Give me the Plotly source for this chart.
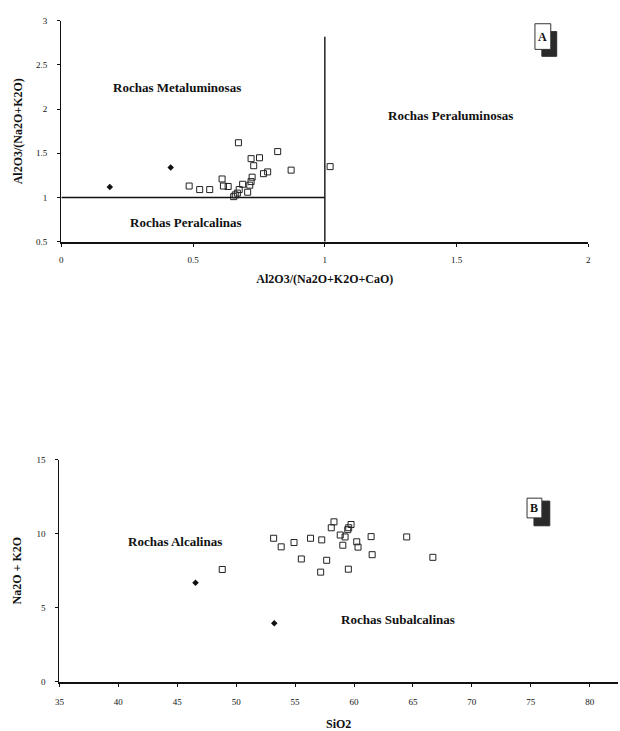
import plotly.graph_objects as go

W, H = 620, 731

# ---------------- Data: diagram A ----------------
a_sq_x = [0.485, 0.525, 0.563, 0.610, 0.615, 0.633, 0.672, 0.654, 0.660, 0.668, 0.675, 0.688,
          0.707, 0.715, 0.720, 0.724, 0.720, 0.730, 0.752, 0.767, 0.783, 0.821, 0.872, 1.020]
a_sq_y = [1.13, 1.09, 1.09, 1.21, 1.13, 1.125, 1.62, 1.01, 1.03, 1.05, 1.09, 1.15,
          1.06, 1.14, 1.18, 1.23, 1.44, 1.36, 1.45, 1.27, 1.29, 1.52, 1.31, 1.35]
a_dm_x = [0.184, 0.415]
a_dm_y = [1.12, 1.34]
a_hline_x = [0, 1]
a_hline_y = [1, 1]
a_vline_x = [1, 1]
a_vline_y = [0.5, 2.82]

# ---------------- Data: diagram B ----------------
b_sq_x = [48.82, 53.18, 53.82, 54.91, 55.53, 56.31, 57.26, 57.68, 57.17, 58.07, 58.30, 58.83,
          59.05, 59.24, 59.47, 59.55, 59.75, 59.52, 60.23, 60.34, 61.45, 61.54, 64.47, 66.69]
b_sq_y = [7.58, 9.69, 9.11, 9.40, 8.29, 9.69, 9.58, 8.20, 7.40, 10.40, 10.80, 9.91,
          9.22, 9.78, 10.27, 10.40, 10.62, 7.60, 9.45, 9.09, 9.80, 8.58, 9.78, 8.40]
b_dm_x = [46.55, 53.23]
b_dm_y = [6.69, 3.95]

a_xticks = [0, 0.5, 1, 1.5, 2]
a_yticks = [0.5, 1, 1.5, 2, 2.5, 3]
b_xticks = [35, 40, 45, 50, 55, 60, 65, 70, 75, 80]
b_yticks = [0, 5, 10, 15]

FONT = "Liberation Serif"

def px(x):
    return x / W

def py(y):
    return 1 - y / H

fig = go.Figure()

sq_marker = dict(symbol="square-open", size=6, color="#222", line=dict(width=1, color="#222"))
dm_marker = dict(symbol="diamond", size=5, color="#111")

fig.add_trace(go.Scatter(x=a_hline_x, y=a_hline_y, mode="lines", line=dict(color="#111", width=1.6),
                         xaxis="x", yaxis="y", showlegend=False))
fig.add_trace(go.Scatter(x=a_vline_x, y=a_vline_y, mode="lines", line=dict(color="#111", width=1.4),
                         xaxis="x", yaxis="y", showlegend=False))
fig.add_trace(go.Scatter(x=a_sq_x, y=a_sq_y, mode="markers", marker=sq_marker,
                         xaxis="x", yaxis="y", showlegend=False))
fig.add_trace(go.Scatter(x=a_dm_x, y=a_dm_y, mode="markers", marker=dm_marker,
                         xaxis="x", yaxis="y", showlegend=False))
fig.add_trace(go.Scatter(x=b_sq_x, y=b_sq_y, mode="markers", marker=sq_marker,
                         xaxis="x2", yaxis="y2", showlegend=False))
fig.add_trace(go.Scatter(x=b_dm_x, y=b_dm_y, mode="markers", marker=dm_marker,
                         xaxis="x2", yaxis="y2", showlegend=False))

tickfont = dict(family=FONT, size=9, color="#111")
titlefont = dict(family=FONT, size=12, color="#111", weight="bold")

axis_common = dict(showgrid=False, zeroline=False, showline=True, linecolor="#111",
                   ticks="outside", ticklen=3, tickcolor="#111", tickfont=tickfont)

fig.update_layout(
    width=W, height=H,
    margin=dict(l=0, r=0, t=0, b=0),
    paper_bgcolor="white", plot_bgcolor="white",
    showlegend=False,
    xaxis=dict(axis_common, domain=[px(57), px(590)], range=[0, 2], anchor="y",
               tickvals=a_xticks, ticktext=["0", "0.5", "1", "1.5", "2"], linewidth=1.6,
               ticklabelstandoff=6,
               title=dict(text="<b>Al2O3/(Na2O+K2O+CaO)</b>", font=titlefont, standoff=10)),
    yaxis=dict(axis_common, domain=[py(240), py(16)], range=[0.5, 3], anchor="x",
               tickvals=a_yticks, ticktext=["0.5", "1", "1.5", "2", "2.5", "3"], linewidth=1.4,
               ticklabelstandoff=8,
               title=dict(text="<b>Al2O3/(Na2O+K2O)</b>", font=titlefont, standoff=10)),
    xaxis2=dict(axis_common, domain=[px(55), 1.0], range=[35, 82.4], anchor="y2",
                tickvals=b_xticks, linewidth=2,
                ticklabelstandoff=8,
                title=dict(text="<b>SiO2</b>", font=titlefont, standoff=15)),
    yaxis2=dict(axis_common, domain=[py(686), py(461)], range=[0, 15], anchor="x2",
                tickvals=b_yticks, linewidth=1.4,
                ticklabelstandoff=8,
                title=dict(text="<b>Na2O + K2O</b>", font=titlefont, standoff=12)),
)

label_font = dict(family=FONT, size=13, color="#111")
def region_label(text, x, y, xref, yref):
    fig.add_annotation(text="<b>" + text + "</b>", x=x, y=y, xref=xref, yref=yref,
                       showarrow=False, font=label_font)

region_label("Rochas Metaluminosas", 0.439, 2.25, "x", "y")
region_label("Rochas Peralcalinas", 0.473, 0.72, "x", "y")
region_label("Rochas Peraluminosas", 1.475, 1.93, "x", "y")
region_label("Rochas Alcalinas", 44.8, 9.47, "x2", "y2")
region_label("Rochas Subalcalinas", 63.7, 4.18, "x2", "y2")

# panel tags (A, B) with shadow boxes
def tag(letter, wx0, wy0, wx1, wy1, sx0, sy0, sx1, sy1):
    fig.add_shape(type="rect", xref="paper", yref="paper",
                  x0=px(sx0), x1=px(sx1), y0=py(sy1), y1=py(sy0),
                  fillcolor="#2a2a2a", line=dict(color="#2a2a2a", width=1))
    fig.add_shape(type="rect", xref="paper", yref="paper",
                  x0=px(wx0), x1=px(wx1), y0=py(wy1), y1=py(wy0),
                  fillcolor="white", line=dict(color="#333", width=1))
    fig.add_annotation(text="<b>" + letter + "</b>", xref="paper", yref="paper",
                       x=px((wx0 + wx1) / 2), y=py((wy0 + wy1) / 2),
                       xanchor="center", yanchor="middle", showarrow=False,
                       font=dict(family=FONT, size=12, color="#111"))

tag("A", 536, 19, 552, 45, 543, 27, 558, 52)
tag("B", 528, 500, 543, 520, 535, 503, 551, 528)

fig.write_html("out.html")
